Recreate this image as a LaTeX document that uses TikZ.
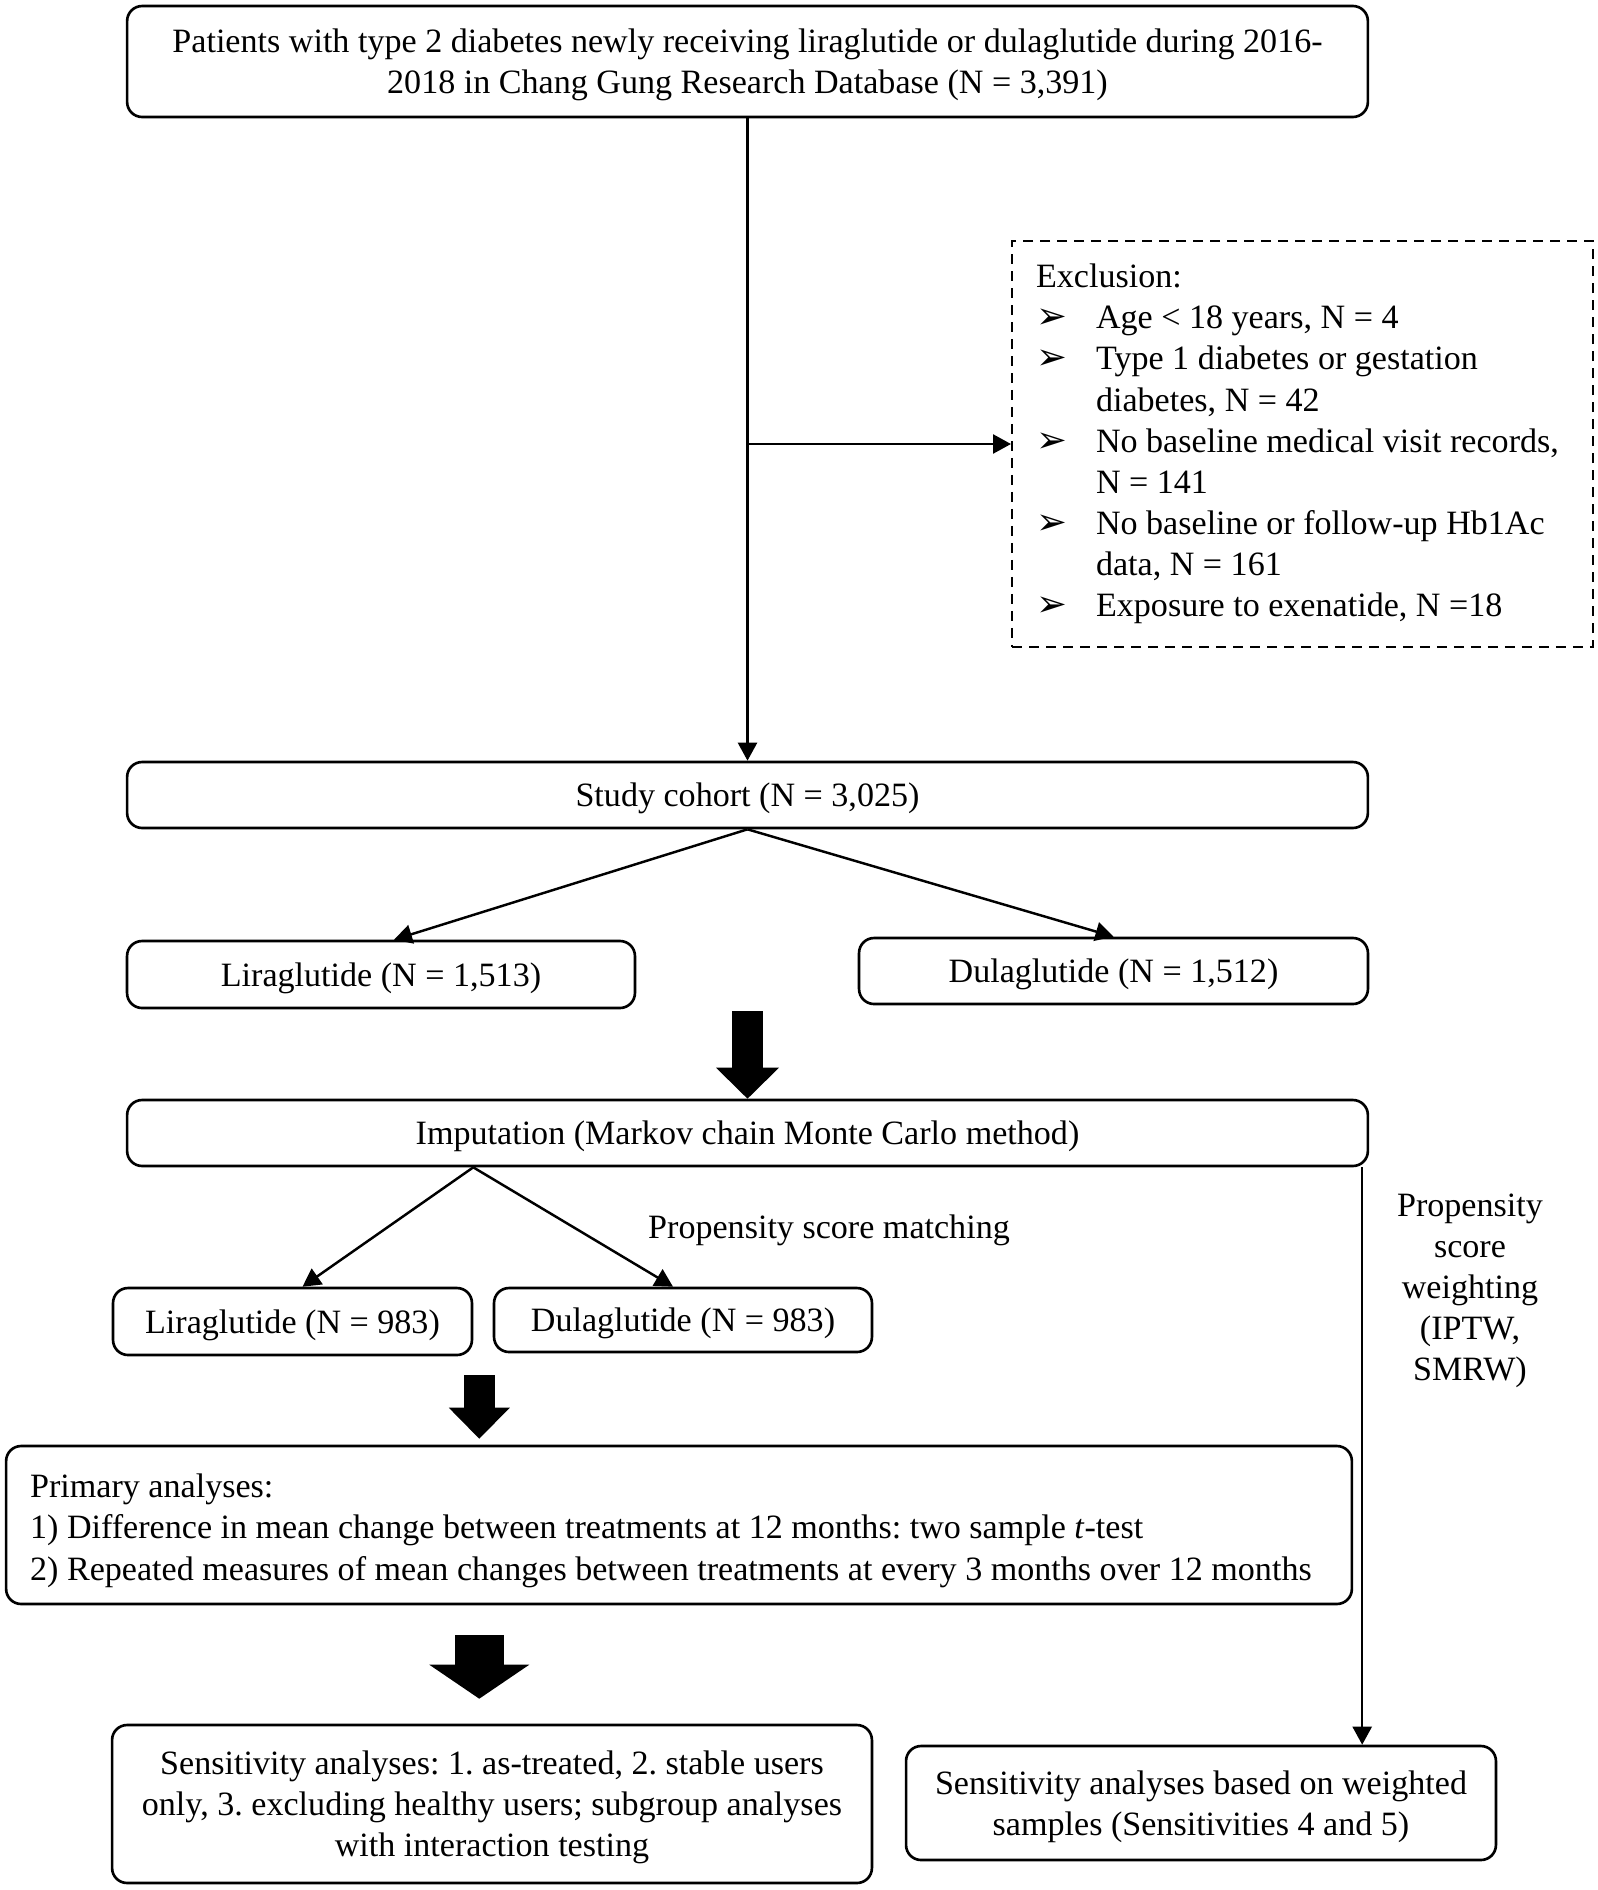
\documentclass[tikz,border=0pt]{standalone}
\usepackage{fontspec}
\setmainfont{Liberation Serif}
\newfontfamily\arrfont{DejaVu Sans}
\usetikzlibrary{arrows.meta,calc}
\newcommand{\bul}{\makebox[1.2cm][l]{\arrfont\fontsize{21}{21}\selectfont ➢}}
\newcommand{\ind}{\hspace*{1.2cm}}
\tikzset{
	txt/.style={font=\fontsize{19.4}{23.4}\selectfont,
		execute at begin node={\frenchspacing\spaceskip=0pt\relax\xspaceskip=0pt\relax}},
	frame/.style={draw, line width=1.5pt, rounded corners=0.3cm, inner sep=0pt},
	box/.style={txt, frame, align=center, text depth=0pt},
	parbox/.style={txt, frame, align=left, inner xsep=0.48cm},
	exclbox/.style={txt, draw, line width=1.2pt, dash pattern=on 0.2cm off 0.14cm, align=left,
		text width=10.66cm, inner xsep=0.48cm, inner ysep=0pt, minimum height=8.12cm},
	conn/.style={line width=1.4pt, -{Triangle[width=0.38cm,length=0.36cm]}},
	bigarrow/.style n args={3}{line width=#1, -{Triangle[width=#2,length=#3,line width=0pt]}},
	lbl/.style={txt, align=center, inner sep=0pt, text depth=0pt}
}

\begin{document}
\begin{tikzpicture}[x=0.02cm, y=-0.02cm]
			%%%%% START %%%%%
			\useasboundingbox (0, 0) rectangle (1597, 1890);
			
			\node[box, minimum width=24.82cm, minimum height=2.22cm] (top) at (747.5, 61.5)
				{Patients with type 2 diabetes newly receiving liraglutide or dulaglutide during 2016-\\2018 in Chang Gung Research Database (N = 3,391)};
			\node[exclbox] (excl) at (1302.5, 444) {Exclusion:\\
				\bul Age < 18 years, N = 4\\
				\bul Type 1 diabetes or gestation\\
				\ind diabetes, N = 42\\
				\bul No baseline medical visit records,\\
				\ind N = 141\\
				\bul No baseline or follow-up Hb1Ac\\
				\ind data, N = 161\\
				\bul Exposure to exenatide, N =18};
			
			\node[box, minimum width=24.82cm, minimum height=1.32cm] (study) at (747.5, 795) {Study cohort (N = 3,025)};
			\node[box, minimum width=10.16cm, minimum height=1.34cm] (lira1) at (381, 974.5) {Liraglutide (N = 1,513)};
			\node[box, minimum width=10.18cm, minimum height=1.32cm] (dula1) at (1113.5, 971) {Dulaglutide (N = 1,512)};
			\node[box, minimum width=24.82cm, minimum height=1.32cm] (imput) at (747.5, 1133) {Imputation (Markov chain Monte Carlo method)};
			
			\node[box, minimum width=7.18cm, minimum height=1.34cm] (lira2) at (292.5, 1321.5) {Liraglutide (N = 983)};
			\node[box, minimum width=7.56cm, minimum height=1.28cm] (dula2) at (683, 1320) {Dulaglutide (N = 983)};
			\node[lbl] (match) at (829, 1227) {Propensity score matching};
			\node[lbl] (weight) at (1470, 1287) {Propensity\\score\\weighting\\(IPTW,\\SMRW)};
			
			\node[parbox, text width=25.96cm, text height=20pt, minimum height=3.16cm] (primary) at (679, 1525) {Primary analyses:\\
				1) Difference in mean change between treatments at 12 months: two sample \textit{t}-test\\
				2) Repeated measures of mean changes between treatments at every 3 months over 12 months};
			\node[box, minimum width=15.2cm, minimum height=3.16cm] (sens1) at (492, 1804)
				{Sensitivity analyses: 1. as-treated, 2. stable users\\only, 3. excluding healthy users; subgroup analyses\\with interaction testing};
			\node[box, minimum width=11.8cm, minimum height=2.28cm] (sens2) at (1201, 1803)
				{Sensitivity analyses based on weighted\\samples (Sensitivities 4 and 5)};
			
			\draw[conn] (top.south) -- (study.north);
			\draw[conn] (top.south |- excl.west) -- (excl.west);
			\draw[conn] (study.south) -- ($(lira1.north)+(13, 0)$);
			\draw[conn] (study.south) -- (dula1.north);
			\draw[bigarrow={0.62cm}{1.26cm}{0.62cm}] ($(imput.north |- lira1.south)+(0, 2)$) -- (imput.north);
			
			\coordinate (split) at (imput.south -| lira2.east);
			\draw[conn] (split) -- ($(lira2.north)+(10, 0)$);
			\draw[conn] (split) -- ($(dula2.north)+(-10, 0)$);
			\draw[bigarrow={0.62cm}{1.22cm}{0.62cm}] ($(lira2.south east)+(6, 19)$) -- ($(lira2.south east |- primary.north)+(6, -6)$);
			\draw[bigarrow={0.98cm}{2cm}{0.68cm}] ($(primary.south -| lira2.south east)+(6, 30)$) -- ($(sens1.north -| lira2.south east)+(6, -25)$);
			
			\coordinate (wtop) at ($(imput.south east)+(-7, 0)$);
			\draw[conn] (wtop) -- (wtop |- sens2.north);
			%%%%% END %%%%%
\end{tikzpicture}
\end{document}
